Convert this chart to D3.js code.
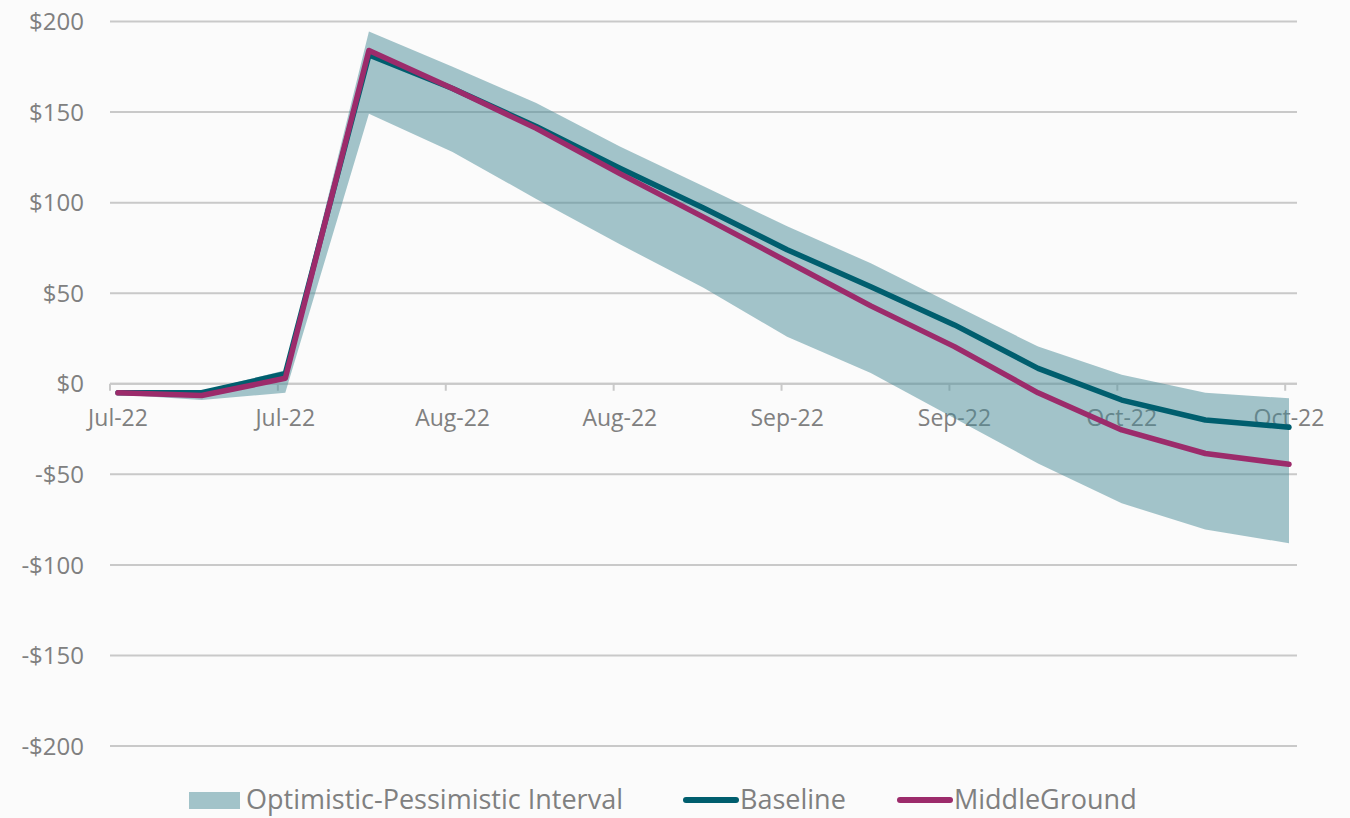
<!DOCTYPE html>
<html>
<head>
<meta charset="utf-8">
<script src="https://cdn.jsdelivr.net/npm/d3@7"></script>
<style>
  html, body { margin: 0; padding: 0; background: #fbfbfb; }
  svg { display: block; }
  text { font-family: "Open Sans", "Noto Sans", sans-serif; fill: #808080; }
</style>
</head>
<body>
<svg id="chart" width="1350" height="818"></svg>
<script>
// Weekly periods and their axis labels (every other period is labelled)
const periods = d3.range(15);
const periodLabels = ["Jul-22", "", "Jul-22", "", "Aug-22", "", "Aug-22", "", "Sep-22", "", "Sep-22", "", "Oct-22", "", "Oct-22"];

// Series values
const baseline     = [-5, -5, 5.5, 181.5, 163, 142, 119, 97, 74, 53.5, 32.5, 8.5, -9, -20, -24];
const middleGround = [-5, -6.5, 3, 184, 163, 141, 116, 92, 67.5, 43, 20.5, -5, -25.5, -38.5, -44.5];
const optimistic   = [-4, -4, 7.5, 194.5, 175, 155, 131, 109, 87, 66.5, 43.5, 20.5, 5, -5, -8];
const pessimistic  = [-6, -9, -5, 149, 128, 102, 77, 53, 26, 6, -19, -44, -66, -80.5, -88];

const yTicks = [-200, -150, -100, -50, 0, 50, 100, 150, 200];
const legendItems = ["Optimistic-Pessimistic Interval", "Baseline", "MiddleGround"];

const colors = { band: "#4a8c98", baseline: "#005e6e", middle: "#9c2b6b", grid: "#c9c9c9" };

const svg = d3.select("#chart");
const plot = { left: 110, right: 1297, top: 21.5, bottom: 746 };

const x = d3.scaleLinear().domain([0, 14]).range([118, 1289]);
const y = d3.scaleLinear().domain([-200, 200]).range([plot.bottom, plot.top]);

// Horizontal gridlines
svg.append("g")
  .selectAll("line")
  .data(yTicks)
  .join("line")
  .attr("x1", plot.left).attr("x2", plot.right)
  .attr("y1", d => y(d)).attr("y2", d => y(d))
  .attr("stroke", colors.grid)
  .attr("stroke-width", 2);

// Y axis labels
const fmt = d => (d < 0 ? "-$" : "$") + Math.abs(d);
svg.append("g")
  .selectAll("text")
  .data(yTicks)
  .join("text")
  .attr("x", 84)
  .attr("y", d => y(d))
  .attr("dy", "0.36em")
  .attr("text-anchor", "end")
  .attr("font-size", 24)
  .text(fmt);

// Zero axis with tick marks and labels at labelled periods (drawn beneath the series)
const axisG = svg.append("g").attr("transform", `translate(0,${y(0)})`);
const tickPos = periods.filter(i => periodLabels[i] !== "");
axisG.append("line")
  .attr("x1", plot.left).attr("x2", plot.right)
  .attr("stroke", colors.grid).attr("stroke-width", 2);
axisG.selectAll("line.tick")
  .data(tickPos)
  .join("line")
  .attr("class", "tick")
  .attr("x1", i => x(i) - 8 + i * 0.3).attr("x2", i => x(i) - 8 + i * 0.3)
  .attr("y1", 0).attr("y2", 7)
  .attr("stroke", colors.grid).attr("stroke-width", 2);
axisG.selectAll("text")
  .data(tickPos)
  .join("text")
  .attr("x", i => x(i))
  .attr("y", 42)
  .attr("text-anchor", "middle")
  .attr("font-size", 23)
  .text(i => periodLabels[i]);

// Interval band
const area = d3.area()
  .x(i => x(i))
  .y0(i => y(pessimistic[i]))
  .y1(i => y(optimistic[i]));
svg.append("path")
  .datum(periods)
  .attr("d", area)
  .attr("fill", colors.band)
  .attr("fill-opacity", 0.5);

// Scenario lines
const line = vals => d3.line().x(i => x(i)).y(i => y(vals[i]));
svg.append("path")
  .datum(periods)
  .attr("d", line(baseline))
  .attr("fill", "none")
  .attr("stroke", colors.baseline)
  .attr("stroke-width", 5.5)
  .attr("stroke-linejoin", "round")
  .attr("stroke-linecap", "round");
svg.append("path")
  .datum(periods)
  .attr("d", line(middleGround))
  .attr("fill", "none")
  .attr("stroke", colors.middle)
  .attr("stroke-width", 5.5)
  .attr("stroke-linejoin", "round")
  .attr("stroke-linecap", "round");

// Legend
const lg = svg.append("g").attr("transform", "translate(0,800)");
lg.append("rect")
  .attr("x", 189).attr("y", -8).attr("width", 51).attr("height", 17)
  .attr("fill", colors.band).attr("fill-opacity", 0.5);
lg.append("text").attr("x", 246).attr("y", 0).attr("dy", "0.35em")
  .attr("font-size", 27).text(legendItems[0]);
lg.append("line")
  .attr("x1", 686).attr("x2", 736)
  .attr("stroke", colors.baseline).attr("stroke-width", 6).attr("stroke-linecap", "round");
lg.append("text").attr("x", 740).attr("y", 0).attr("dy", "0.35em")
  .attr("font-size", 27).text(legendItems[1]);
lg.append("line")
  .attr("x1", 900).attr("x2", 950)
  .attr("stroke", colors.middle).attr("stroke-width", 6).attr("stroke-linecap", "round");
lg.append("text").attr("x", 954).attr("y", 0).attr("dy", "0.35em")
  .attr("font-size", 27).text(legendItems[2]);
</script>
</body>
</html>
